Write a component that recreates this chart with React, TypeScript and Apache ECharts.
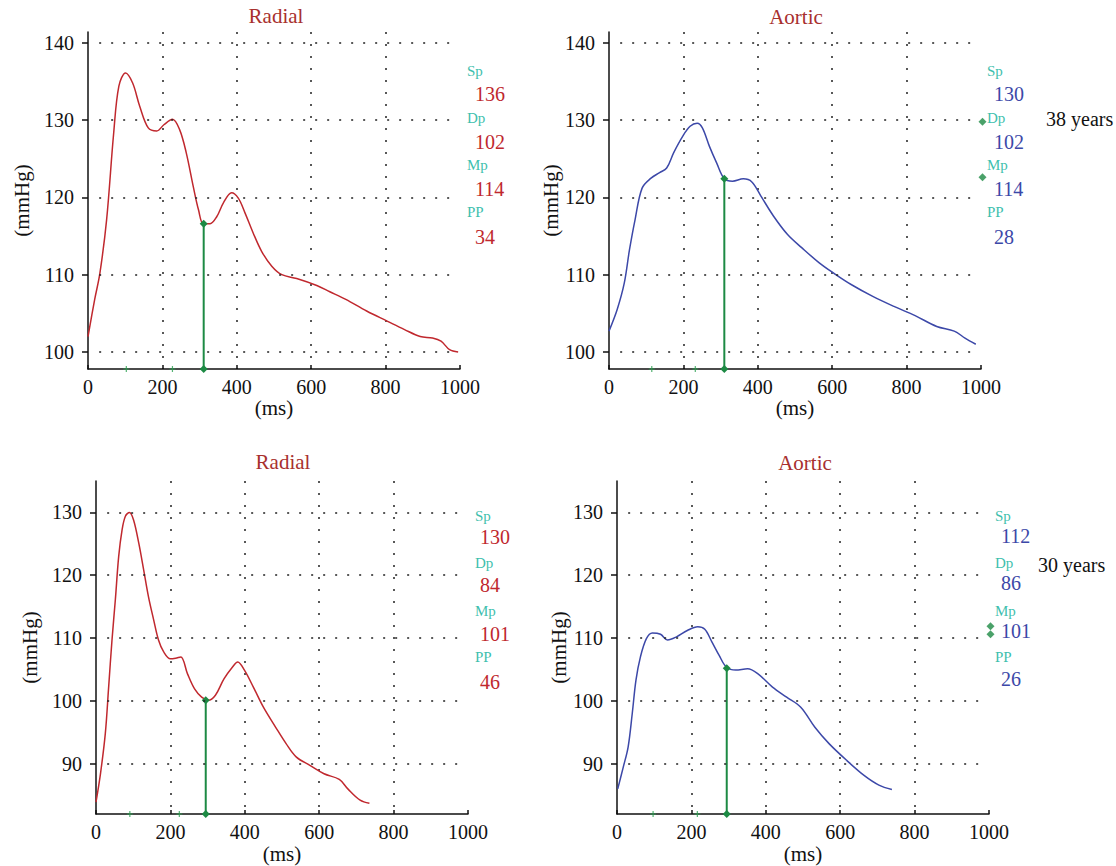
import React, { useEffect, useRef } from "react";
import * as echarts from "echarts";

// ---------- data ----------
const xTicks = [0, 200, 400, 600, 800, 1000];
const yTicksTop = [100, 110, 120, 130, 140];
const yTicksBottom = [90, 100, 110, 120, 130];

// 38 years, radial
const radial38Ms = [0, 18, 32, 50, 69, 83, 101, 120, 139, 162, 185, 204, 227, 246, 264, 283, 297, 310, 328, 346, 364, 386, 404, 422, 444, 467, 494, 521, 561, 615, 650, 693, 749, 804, 851, 893, 926, 949, 972, 995];
const radial38Val = [102.0, 106.8, 110.2, 117.1, 128.3, 134.4, 136.1, 134.8, 131.8, 129.0, 128.6, 129.4, 130.1, 128.8, 125.8, 121.4, 118.4, 116.6, 116.6, 117.5, 119.3, 120.6, 119.9, 118.0, 115.4, 113.0, 111.1, 110.0, 109.5, 108.6, 107.8, 106.8, 105.3, 104.0, 102.9, 102.0, 101.8, 101.4, 100.3, 100.0];

// 38 years, aortic
const aortic38Ms = [0, 22, 41, 55, 70, 89, 113, 136, 155, 174, 198, 218, 237, 251, 270, 289, 310, 332, 361, 384, 408, 442, 480, 518, 566, 604, 652, 709, 766, 823, 881, 928, 957, 986];
const aortic38Val = [102.7, 105.5, 108.9, 113.2, 117.1, 121.2, 122.5, 123.2, 123.8, 125.8, 127.9, 129.2, 129.6, 129.0, 126.6, 124.5, 122.4, 122.1, 122.4, 122.0, 120.2, 117.6, 115.2, 113.5, 111.5, 110.2, 108.7, 107.2, 105.9, 104.7, 103.3, 102.7, 101.8, 101.0];

// 30 years, radial
const radial30Ms = [0, 12, 25, 34, 43, 52, 61, 70, 79, 90, 101, 115, 128, 141, 155, 168, 182, 200, 214, 228, 246, 265, 284, 302, 321, 344, 367, 381, 399, 423, 450, 483, 511, 538, 576, 613, 654, 677, 710, 735];
const radial30Val = [83.9, 88.4, 94.8, 102.2, 109.7, 116.1, 123.0, 127.2, 129.4, 130.0, 128.8, 125.1, 120.9, 116.6, 112.9, 109.7, 107.8, 106.7, 106.8, 107.0, 104.3, 101.9, 100.6, 100.1, 100.9, 103.5, 105.4, 106.2, 104.9, 102.2, 99.0, 95.8, 93.2, 91.1, 89.7, 88.4, 87.5, 86.0, 84.2, 83.7];

// 30 years, aortic
const aortic30Ms = [2, 17, 30, 41, 51, 63, 79, 95, 117, 136, 160, 189, 217, 236, 255, 275, 294, 319, 351, 379, 418, 456, 494, 532, 570, 618, 665, 704, 739];
const aortic30Val = [86.0, 89.5, 92.7, 98.0, 103.3, 107.0, 109.9, 110.8, 110.6, 109.7, 110.2, 111.2, 111.8, 111.4, 109.4, 107.2, 105.4, 104.9, 105.1, 104.3, 102.2, 100.6, 99.0, 95.8, 93.2, 90.5, 88.1, 86.6, 85.9];

// green markers: [time of vertical line, value at curve]
const markerLine38Radial = [311, 116.6];
const markerLine38Aortic = [310, 122.4];
const markerLine30Radial = [295, 100.1];
const markerLine30Aortic = [295, 105.2];
// small + markers on the time axis
const axisMarks38Radial = [103, 227];
const axisMarks38Aortic = [115, 232];
const axisMarks30Radial = [91, 224];
const axisMarks30Aortic = [97, 216];
// side diamonds (aortic panels)
const sideDiamonds38 = [[1004, 129.8], [1004, 122.6]];
const sideDiamonds30 = [[1004, 111.9], [1004, 110.6]];

const statLabels = ["Sp", "Dp", "Mp", "PP"];
const radial38Stats = [136, 102, 114, 34];
const aortic38Stats = [130, 102, 114, 28];
const radial30Stats = [130, 84, 101, 46];
const aortic30Stats = [112, 86, 101, 26];
const ageLabels = ["38 years", "30 years"];
const panelTitles = ["Radial", "Aortic", "Radial", "Aortic"];

// ---------- style ----------
const FONT = "'Liberation Serif', 'DejaVu Serif', serif";
const RED = "#c0282e";
const BLUE = "#3c48a8";
const TITLE = "#a8302e";
const TEAL = "#3fbfae";
const GREEN = "#1d8a44";
const DOT: number[] = [2, 10];
const PLUS = "path://M2,0L3,0L3,2L5,2L5,3L3,3L3,5L2,5L2,3L0,3L0,2L2,2Z";

const pairs = (xs: number[], ys: number[]) => xs.map((x, i) => [x, ys[i]]);

export default function App() {
  const ref = useRef<HTMLDivElement>(null);
  useEffect(() => {
    document.body.style.margin = "0";
    if (!ref.current) return;
    const chart = echarts.init(ref.current, undefined, { renderer: "svg" });

    const panels = [
      { grid: { left: 88, top: 32, width: 372, height: 337 }, min: 97.8, max: 141.4, ticks: yTicksTop, ms: radial38Ms, val: radial38Val, color: RED, ml: markerLine38Radial, am: axisMarks38Radial, side: null as any, nameGap: 56, xNameGap: 27 },
      { grid: { left: 609, top: 32, width: 372, height: 337 }, min: 97.8, max: 141.4, ticks: yTicksTop, ms: aortic38Ms, val: aortic38Val, color: BLUE, ml: markerLine38Aortic, am: axisMarks38Aortic, side: sideDiamonds38, nameGap: 28, xNameGap: 27 },
      { grid: { left: 96, top: 481, width: 372, height: 333 }, min: 82, max: 135, ticks: yTicksBottom, ms: radial30Ms, val: radial30Val, color: RED, ml: markerLine30Radial, am: axisMarks30Radial, side: null as any, nameGap: 56, xNameGap: 29 },
      { grid: { left: 617, top: 481, width: 372, height: 333 }, min: 82, max: 135, ticks: yTicksBottom, ms: aortic30Ms, val: aortic30Val, color: BLUE, ml: markerLine30Aortic, am: axisMarks30Aortic, side: sideDiamonds30, nameGap: 28, xNameGap: 29 },
    ];

    const grids = panels.map((p) => p.grid);
    const xAxes = panels.map((p, i) => ({
      type: "value",
      gridIndex: i,
      min: xTicks[0],
      max: xTicks[xTicks.length - 1],
      interval: xTicks[1] - xTicks[0],
      name: "(ms)",
      nameLocation: "middle",
      nameGap: p.xNameGap,
      nameTextStyle: { fontFamily: FONT, fontSize: 21, color: "#111" },
      axisLine: { show: true, onZero: false, lineStyle: { color: "#111", width: 1.5 } },
      axisTick: { show: true, inside: true, length: 4, lineStyle: { color: "#111", width: 1.5 } },
      axisLabel: { fontFamily: FONT, fontSize: 20, color: "#111", margin: 8, formatter: (v: number) => String(v) },
      splitLine: { show: true, showMinLine: false, showMaxLine: false, lineStyle: { color: "#222", type: DOT, width: 1.5 } },
    }));
    const yAxes = panels.map((p, i) => ({
      type: "value",
      gridIndex: i,
      min: p.min,
      max: p.max,
      name: "(mmHg)",
      nameLocation: "middle",
      nameGap: p.nameGap,
      nameTextStyle: { fontFamily: FONT, fontSize: 21, color: "#111" },
      axisLine: { show: true, onZero: false, lineStyle: { color: "#111", width: 1.5 } },
      axisTick: { show: true, inside: false, length: 6, customValues: p.ticks, lineStyle: { color: "#111", width: 1.5 } },
      axisLabel: { fontFamily: FONT, fontSize: 20, color: "#111", margin: 14, customValues: p.ticks, formatter: (v: number) => String(v) },
      splitLine: { show: false },
    }));

    const series: any[] = [];
    panels.forEach((p, i) => {
      series.push({
        type: "line",
        xAxisIndex: i,
        yAxisIndex: i,
        data: pairs(p.ms, p.val),
        smooth: 0.35,
        showSymbol: false,
        lineStyle: { color: p.color, width: 1.5 },
        itemStyle: { color: p.color },
        markLine: {
          silent: true,
          symbol: "none",
          label: { show: false },
          lineStyle: { color: "#222", type: DOT, width: 1.5 },
          data: p.ticks.map((v) => [{ coord: [30, v] }, { coord: [978, v] }]),
        },
        z: 3,
      });
      series.push({
        type: "line",
        xAxisIndex: i,
        yAxisIndex: i,
        data: [[p.ml[0], p.min], [p.ml[0], p.ml[1]]],
        symbol: "diamond",
        symbolSize: 8,
        showSymbol: true,
        lineStyle: { color: GREEN, width: 2 },
        itemStyle: { color: GREEN },
        z: 4,
      });
      series.push({
        type: "scatter",
        xAxisIndex: i,
        yAxisIndex: i,
        data: p.am.map((t) => [t, p.min]),
        symbol: PLUS,
        symbolSize: 6,
        clip: false,
        itemStyle: { color: "#2aa050" },
        z: 4,
      });
      if (p.side) {
        series.push({
          type: "scatter",
          xAxisIndex: i,
          yAxisIndex: i,
          data: p.side,
          symbol: "diamond",
          symbolSize: 8,
          clip: false,
          itemStyle: { color: GREEN },
          z: 4,
        });
      }
    });

    const graphics: any[] = [];
    const titlePos = [[276, 16], [796, 17], [283, 462], [805, 463]];
    panelTitles.forEach((t, i) => {
      graphics.push({
        type: "text",
        x: titlePos[i][0],
        y: titlePos[i][1],
        style: { text: t, fill: TITLE, font: `21px ${FONT}`, textAlign: "center", textVerticalAlign: "middle" },
      });
    });
    const statBlocks = [
      { lx: 467, vx: 475, ly: [71, 118, 165, 212], vy: [94, 142, 189, 237], vals: radial38Stats, color: RED },
      { lx: 987, vx: 994, ly: [71, 118, 165, 212], vy: [94, 142, 189, 237], vals: aortic38Stats, color: BLUE },
      { lx: 475, vx: 480, ly: [516, 563, 611, 657], vy: [537, 585, 634, 682], vals: radial30Stats, color: RED },
      { lx: 995, vx: 1001, ly: [516, 563, 611, 657], vy: [536, 583, 631, 679], vals: aortic30Stats, color: BLUE },
    ];
    statBlocks.forEach((b) => {
      statLabels.forEach((lab, k) => {
        graphics.push({
          type: "text",
          x: b.lx,
          y: b.ly[k],
          style: { text: lab, fill: TEAL, font: `15px ${FONT}`, textAlign: "left", textVerticalAlign: "middle" },
        });
        graphics.push({
          type: "text",
          x: b.vx,
          y: b.vy[k],
          style: { text: String(b.vals[k]), fill: b.color, font: `20px ${FONT}`, textAlign: "left", textVerticalAlign: "middle" },
        });
      });
    });
    const agePos = [[1046, 119], [1038, 565]];
    ageLabels.forEach((a, i) => {
      graphics.push({
        type: "text",
        x: agePos[i][0],
        y: agePos[i][1],
        style: { text: a, fill: "#111", font: `20px ${FONT}`, textAlign: "left", textVerticalAlign: "middle" },
      });
    });

    chart.setOption({
      animation: false,
      backgroundColor: "#ffffff",
      grid: grids,
      xAxis: xAxes,
      yAxis: yAxes,
      series,
      graphic: graphics,
    });
    return () => chart.dispose();
  }, []);
  return <div ref={ref} style={{ width: 1116, height: 866 }} />;
}
